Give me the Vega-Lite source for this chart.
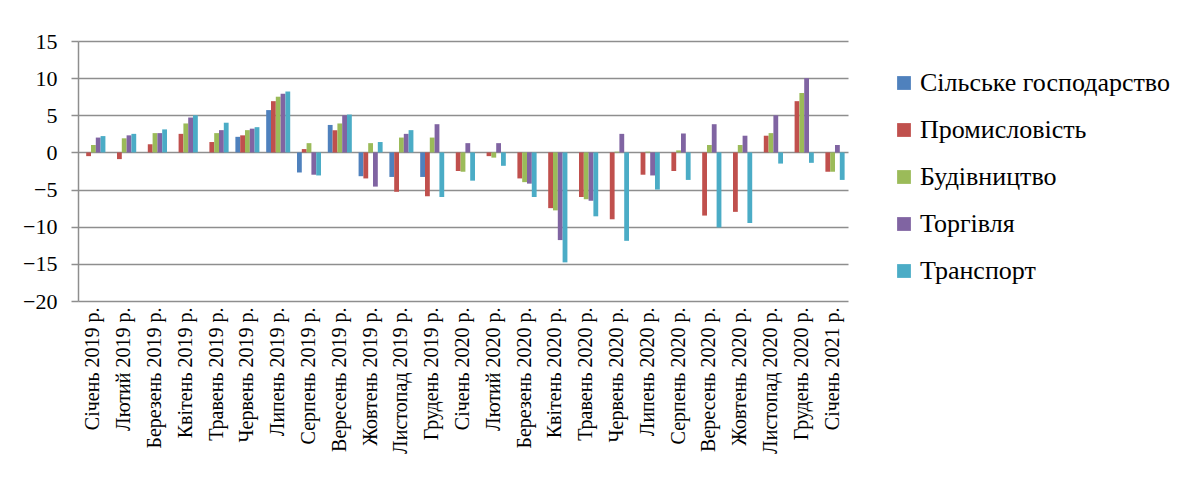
{
  "$schema": "https://vega.github.io/schema/vega-lite/v6.json",
  "width": 770,
  "height": 260,
  "autosize": {"type": "none"},
  "padding": {"left": 78, "top": 41, "right": 333, "bottom": 182},
  "background": "white",
  "config": {"view": {"stroke": null}, "axis": {"labelFont": "Liberation Serif"}, "legend": {"labelFont": "Liberation Serif"}},
  "data": {"values": [
    {"month": "Січень 2019 р.", "sector": "Промисловість", "value": -0.5},
    {"month": "Січень 2019 р.", "sector": "Будівництво", "value": 1.0},
    {"month": "Січень 2019 р.", "sector": "Торгівля", "value": 2.0},
    {"month": "Січень 2019 р.", "sector": "Транспорт", "value": 2.2},
    {"month": "Лютий 2019 р.", "sector": "Промисловість", "value": -0.9},
    {"month": "Лютий 2019 р.", "sector": "Будівництво", "value": 1.9},
    {"month": "Лютий 2019 р.", "sector": "Торгівля", "value": 2.3},
    {"month": "Лютий 2019 р.", "sector": "Транспорт", "value": 2.5},
    {"month": "Березень 2019 р.", "sector": "Промисловість", "value": 1.1},
    {"month": "Березень 2019 р.", "sector": "Будівництво", "value": 2.6},
    {"month": "Березень 2019 р.", "sector": "Торгівля", "value": 2.6},
    {"month": "Березень 2019 р.", "sector": "Транспорт", "value": 3.1},
    {"month": "Квітень 2019 р.", "sector": "Промисловість", "value": 2.5},
    {"month": "Квітень 2019 р.", "sector": "Будівництво", "value": 3.9},
    {"month": "Квітень 2019 р.", "sector": "Торгівля", "value": 4.7},
    {"month": "Квітень 2019 р.", "sector": "Транспорт", "value": 5.0},
    {"month": "Травень 2019 р.", "sector": "Промисловість", "value": 1.4},
    {"month": "Травень 2019 р.", "sector": "Будівництво", "value": 2.6},
    {"month": "Травень 2019 р.", "sector": "Торгівля", "value": 3.0},
    {"month": "Травень 2019 р.", "sector": "Транспорт", "value": 4.0},
    {"month": "Червень 2019 р.", "sector": "Сільське господарство", "value": 2.1},
    {"month": "Червень 2019 р.", "sector": "Промисловість", "value": 2.3},
    {"month": "Червень 2019 р.", "sector": "Будівництво", "value": 3.0},
    {"month": "Червень 2019 р.", "sector": "Торгівля", "value": 3.2},
    {"month": "Червень 2019 р.", "sector": "Транспорт", "value": 3.4},
    {"month": "Липень 2019 р.", "sector": "Сільське господарство", "value": 5.7},
    {"month": "Липень 2019 р.", "sector": "Промисловість", "value": 6.9},
    {"month": "Липень 2019 р.", "sector": "Будівництво", "value": 7.5},
    {"month": "Липень 2019 р.", "sector": "Торгівля", "value": 7.9},
    {"month": "Липень 2019 р.", "sector": "Транспорт", "value": 8.2},
    {"month": "Серпень 2019 р.", "sector": "Сільське господарство", "value": -2.7},
    {"month": "Серпень 2019 р.", "sector": "Промисловість", "value": 0.45},
    {"month": "Серпень 2019 р.", "sector": "Будівництво", "value": 1.25},
    {"month": "Серпень 2019 р.", "sector": "Торгівля", "value": -3.0},
    {"month": "Серпень 2019 р.", "sector": "Транспорт", "value": -3.1},
    {"month": "Вересень 2019 р.", "sector": "Сільське господарство", "value": 3.7},
    {"month": "Вересень 2019 р.", "sector": "Промисловість", "value": 3.0},
    {"month": "Вересень 2019 р.", "sector": "Будівництво", "value": 3.9},
    {"month": "Вересень 2019 р.", "sector": "Торгівля", "value": 5.0},
    {"month": "Вересень 2019 р.", "sector": "Транспорт", "value": 5.1},
    {"month": "Жовтень 2019 р.", "sector": "Сільське господарство", "value": -3.2},
    {"month": "Жовтень 2019 р.", "sector": "Промисловість", "value": -3.5},
    {"month": "Жовтень 2019 р.", "sector": "Будівництво", "value": 1.25},
    {"month": "Жовтень 2019 р.", "sector": "Торгівля", "value": -4.6},
    {"month": "Жовтень 2019 р.", "sector": "Транспорт", "value": 1.4},
    {"month": "Листопад 2019 р.", "sector": "Сільське господарство", "value": -3.3},
    {"month": "Листопад 2019 р.", "sector": "Промисловість", "value": -5.3},
    {"month": "Листопад 2019 р.", "sector": "Будівництво", "value": 2.0},
    {"month": "Листопад 2019 р.", "sector": "Торгівля", "value": 2.5},
    {"month": "Листопад 2019 р.", "sector": "Транспорт", "value": 3.0},
    {"month": "Грудень 2019 р.", "sector": "Сільське господарство", "value": -3.3},
    {"month": "Грудень 2019 р.", "sector": "Промисловість", "value": -5.9},
    {"month": "Грудень 2019 р.", "sector": "Будівництво", "value": 2.0},
    {"month": "Грудень 2019 р.", "sector": "Торгівля", "value": 3.8},
    {"month": "Грудень 2019 р.", "sector": "Транспорт", "value": -6.0},
    {"month": "Січень 2020 р.", "sector": "Промисловість", "value": -2.5},
    {"month": "Січень 2020 р.", "sector": "Будівництво", "value": -2.6},
    {"month": "Січень 2020 р.", "sector": "Торгівля", "value": 1.25},
    {"month": "Січень 2020 р.", "sector": "Транспорт", "value": -3.8},
    {"month": "Лютий 2020 р.", "sector": "Промисловість", "value": -0.5},
    {"month": "Лютий 2020 р.", "sector": "Будівництво", "value": -0.7},
    {"month": "Лютий 2020 р.", "sector": "Торгівля", "value": 1.25},
    {"month": "Лютий 2020 р.", "sector": "Транспорт", "value": -1.8},
    {"month": "Березень 2020 р.", "sector": "Промисловість", "value": -3.5},
    {"month": "Березень 2020 р.", "sector": "Будівництво", "value": -4.0},
    {"month": "Березень 2020 р.", "sector": "Торгівля", "value": -4.2},
    {"month": "Березень 2020 р.", "sector": "Транспорт", "value": -6.0},
    {"month": "Квітень 2020 р.", "sector": "Промисловість", "value": -7.5},
    {"month": "Квітень 2020 р.", "sector": "Будівництво", "value": -7.8},
    {"month": "Квітень 2020 р.", "sector": "Торгівля", "value": -11.8},
    {"month": "Квітень 2020 р.", "sector": "Транспорт", "value": -14.8},
    {"month": "Травень 2020 р.", "sector": "Промисловість", "value": -6.0},
    {"month": "Травень 2020 р.", "sector": "Будівництво", "value": -6.3},
    {"month": "Травень 2020 р.", "sector": "Торгівля", "value": -6.5},
    {"month": "Травень 2020 р.", "sector": "Транспорт", "value": -8.6},
    {"month": "Червень 2020 р.", "sector": "Промисловість", "value": -9.0},
    {"month": "Червень 2020 р.", "sector": "Будівництво", "value": 0.1},
    {"month": "Червень 2020 р.", "sector": "Торгівля", "value": 2.5},
    {"month": "Червень 2020 р.", "sector": "Транспорт", "value": -11.9},
    {"month": "Липень 2020 р.", "sector": "Промисловість", "value": -3.0},
    {"month": "Липень 2020 р.", "sector": "Будівництво", "value": 0.1},
    {"month": "Липень 2020 р.", "sector": "Торгівля", "value": -3.1},
    {"month": "Липень 2020 р.", "sector": "Транспорт", "value": -5.0},
    {"month": "Серпень 2020 р.", "sector": "Промисловість", "value": -2.5},
    {"month": "Серпень 2020 р.", "sector": "Будівництво", "value": 0.27},
    {"month": "Серпень 2020 р.", "sector": "Торгівля", "value": 2.55},
    {"month": "Серпень 2020 р.", "sector": "Транспорт", "value": -3.7},
    {"month": "Вересень 2020 р.", "sector": "Промисловість", "value": -8.5},
    {"month": "Вересень 2020 р.", "sector": "Будівництво", "value": 1.0},
    {"month": "Вересень 2020 р.", "sector": "Торгівля", "value": 3.8},
    {"month": "Вересень 2020 р.", "sector": "Транспорт", "value": -10.1},
    {"month": "Жовтень 2020 р.", "sector": "Промисловість", "value": -8.0},
    {"month": "Жовтень 2020 р.", "sector": "Будівництво", "value": 1.0},
    {"month": "Жовтень 2020 р.", "sector": "Торгівля", "value": 2.25},
    {"month": "Жовтень 2020 р.", "sector": "Транспорт", "value": -9.5},
    {"month": "Листопад 2020 р.", "sector": "Промисловість", "value": 2.25},
    {"month": "Листопад 2020 р.", "sector": "Будівництво", "value": 2.6},
    {"month": "Листопад 2020 р.", "sector": "Торгівля", "value": 5.0},
    {"month": "Листопад 2020 р.", "sector": "Транспорт", "value": -1.5},
    {"month": "Грудень 2020 р.", "sector": "Промисловість", "value": 6.9},
    {"month": "Грудень 2020 р.", "sector": "Будівництво", "value": 8.0},
    {"month": "Грудень 2020 р.", "sector": "Торгівля", "value": 10.0},
    {"month": "Грудень 2020 р.", "sector": "Транспорт", "value": -1.4},
    {"month": "Січень 2021 р.", "sector": "Промисловість", "value": -2.6},
    {"month": "Січень 2021 р.", "sector": "Будівництво", "value": -2.6},
    {"month": "Січень 2021 р.", "sector": "Торгівля", "value": 1.0},
    {"month": "Січень 2021 р.", "sector": "Транспорт", "value": -3.7}
  ]},
  "mark": {"type": "bar"},
  "encoding": {
    "x": {
      "field": "month", "type": "nominal", "sort": null,
      "scale": {"paddingInner": 0.22, "paddingOuter": 0.11},
      "axis": {"title": null, "labelAngle": -90, "domain": false, "ticks": false, "labelFont": "Liberation Serif", "labelFontSize": 20, "labelColor": "black", "labelPadding": 6, "labelLimit": 300}
    },
    "xOffset": {
      "field": "sector", "type": "nominal",
      "sort": ["Сільське господарство", "Промисловість", "Будівництво", "Торгівля", "Транспорт"],
      "scale": {"domain": ["Сільське господарство", "Промисловість", "Будівництво", "Торгівля", "Транспорт"], "paddingInner": 0, "paddingOuter": 0}
    },
    "y": {
      "field": "value", "type": "quantitative",
      "scale": {"domain": [-20, 15], "nice": false, "zero": false},
      "axis": {"title": null, "values": [-20, -15, -10, -5, 0, 5, 10, 15], "gridColor": "#8e8e8e", "gridWidth": 1.5, "domainColor": "#8e8e8e", "domainWidth": 1.5, "tickColor": "#8e8e8e", "tickWidth": 1.5, "tickSize": 7, "labelFont": "Liberation Serif", "labelFontSize": 22, "labelColor": "black", "labelPadding": 14}
    },
    "color": {
      "field": "sector", "type": "nominal",
      "scale": {"domain": ["Сільське господарство", "Промисловість", "Будівництво", "Торгівля", "Транспорт"], "range": ["#4F81BD", "#C0504D", "#9BBB59", "#8064A2", "#4BACC6"]},
      "legend": {"title": null, "orient": "none", "legendX": 813, "legendY": 29, "symbolType": "square", "symbolSize": 190, "symbolStrokeWidth": 0, "labelFont": "Liberation Serif", "labelFontSize": 26, "labelColor": "black", "labelOffset": 3, "rowPadding": 21, "padding": 0, "labelLimit": 400}
    }
  }
}
